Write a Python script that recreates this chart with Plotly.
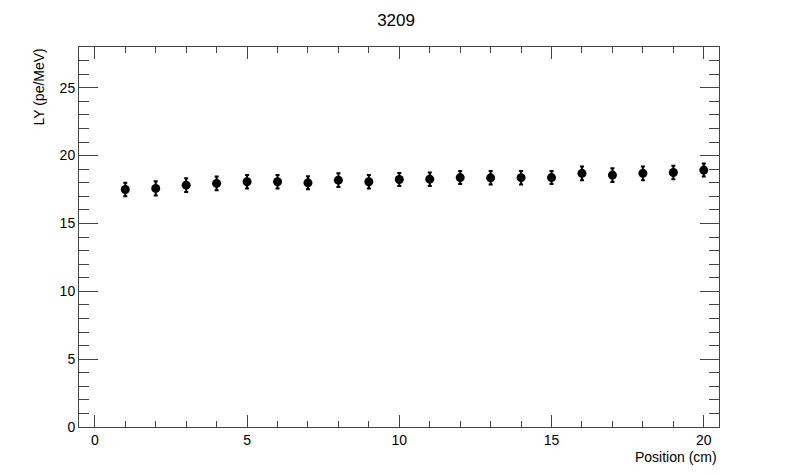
import plotly.graph_objects as go

# LY vs position along the bar, run 3209
position_cm = [1, 2, 3, 4, 5, 6, 7, 8, 9, 10,
               11, 12, 13, 14, 15, 16, 17, 18, 19, 20]
ly_pe_mev = [17.50, 17.58, 17.82, 17.95, 18.07, 18.07, 17.99, 18.19, 18.07, 18.24,
             18.26, 18.38, 18.36, 18.37, 18.38, 18.69, 18.56, 18.69, 18.75, 18.93]
ly_err = [0.5, 0.52, 0.5, 0.5, 0.5, 0.5, 0.48, 0.5, 0.5, 0.48,
          0.5, 0.48, 0.5, 0.5, 0.48, 0.5, 0.5, 0.5, 0.5, 0.48]

fig = go.Figure()
fig.add_trace(go.Scatter(
    x=position_cm,
    y=ly_pe_mev,
    mode="markers",
    marker=dict(color="black", size=9, symbol="circle"),
    error_y=dict(type="data", array=ly_err, color="black", thickness=2, width=2),
    showlegend=False,
))

axis_common = dict(
    showgrid=False,
    zeroline=False,
    showline=True,
    linecolor="#444",
    linewidth=1,
    mirror="ticks",
    ticks="inside",
    tickcolor="#444",
    tickfont=dict(size=14, color="black"),
)

fig.update_xaxes(
    range=[-0.52, 20.5],
    tickvals=[0, 5, 10, 15, 20],
    ticklen=12,
    minor=dict(dtick=1, ticks="inside", ticklen=6, tickcolor="#444", showgrid=False),
    **axis_common,
)
fig.update_yaxes(
    range=[0, 28],
    tickvals=[0, 5, 10, 15, 20, 25],
    ticklen=19,
    minor=dict(dtick=1, ticks="inside", ticklen=10, tickcolor="#444", showgrid=False),
    **axis_common,
)

# the page puts an 8px body margin round the figure
fig.update_layout(
    width=792,
    height=467,
    margin=dict(l=71, r=81, t=39, b=48),
    paper_bgcolor="white",
    plot_bgcolor="white",
    font=dict(family="Liberation Sans, Arial, sans-serif", color="black"),
    title=dict(text="3209", x=0.49, xanchor="center", y=0.975, yanchor="middle",
               font=dict(size=17, color="black")),
    annotations=[
        dict(text="Position (cm)", xref="paper", yref="paper", x=1.0, y=-0.052,
             xanchor="right", yanchor="top", showarrow=False,
             font=dict(size=14, color="black")),
        dict(text="LY (pe/MeV)", xref="paper", yref="paper", x=-0.064, y=1.0,
             xanchor="center", yanchor="top", textangle=-90, showarrow=False,
             font=dict(size=14, color="black")),
    ],
)

fig.write_html("out.html")
